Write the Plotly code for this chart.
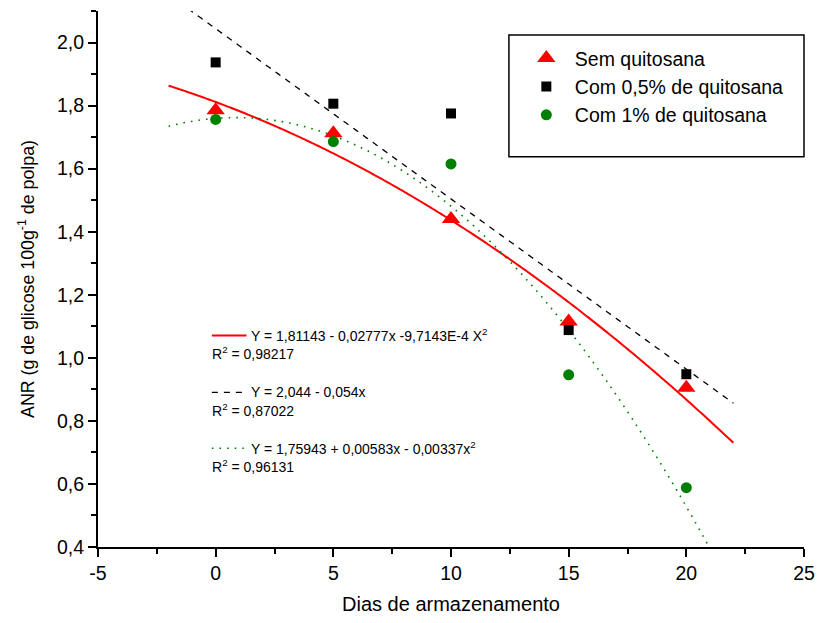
import numpy as np
import plotly.graph_objects as go

dias = [0, 5, 10, 15, 20]
sem_quitosana = [1.785, 1.712, 1.440, 1.115, 0.905]
com_05 = [1.937, 1.806, 1.775, 1.088, 0.948]
com_1 = [1.756, 1.686, 1.615, 0.946, 0.588]

x_tickvals = [-5, 0, 5, 10, 15, 20, 25]
x_ticktext = ["-5", "0", "5", "10", "15", "20", "25"]

# regression coefficients printed on the chart (c0, c1, c2)
coef_sem = [1.81143, -0.02777, -9.7143e-4]
coef_05 = [2.044, -0.054, 0.0]
coef_1 = [1.75943, 0.00583, -0.00337]
fit_range = [-2, 22]

xf = np.linspace(fit_range[0], fit_range[1], 300)
def poly(c, x):
    return c[0] + c[1] * x + c[2] * x ** 2

font = "Liberation Sans, Arial, sans-serif"
fig = go.Figure()

fig.add_trace(go.Scatter(x=xf, y=poly(coef_sem, xf), mode="lines",
                         line=dict(color="red", width=2, simplify=False), showlegend=False))
fig.add_trace(go.Scatter(x=xf, y=poly(coef_05, xf), mode="lines",
                         line=dict(color="black", width=1.3, dash="6px,6px", simplify=False), showlegend=False))
fig.add_trace(go.Scatter(x=xf, y=poly(coef_1, xf), mode="lines",
                         line=dict(color="green", width=1.6, dash="1.6px,6px", simplify=False), showlegend=False))

fig.add_trace(go.Scatter(x=dias, y=sem_quitosana, mode="markers", name="Sem quitosana",
                         marker=dict(symbol="triangle-up", color="red", size=16)))
fig.add_trace(go.Scatter(x=dias, y=com_05, mode="markers", name="Com 0,5% de quitosana",
                         marker=dict(symbol="square", color="black", size=10)))
fig.add_trace(go.Scatter(x=dias, y=com_1, mode="markers", name="Com 1% de quitosana",
                         marker=dict(symbol="circle", color="green", size=11)))

axis_common = dict(showline=True, linecolor="black", linewidth=2, ticks="outside",
                   ticklen=8, tickwidth=2, tickcolor="black", showgrid=False, zeroline=False,
                   tickfont=dict(family=font, size=19.5, color="black"))

fig.update_xaxes(range=[-5, 25], tickvals=x_tickvals, ticktext=x_ticktext,
                 minor=dict(ticks="outside", ticklen=5, tickwidth=2, tickcolor="black", dtick=2.5, tick0=-5),
                 title_text="Dias de armazenamento", title_standoff=14,
                 title_font=dict(family=font, size=20, color="black"), **axis_common)
fig.update_yaxes(range=[0.4, 2.1], tick0=0.4, dtick=0.2, tickformat=".1f",
                 minor=dict(ticks="outside", ticklen=5, tickwidth=2, tickcolor="black", dtick=0.1, tick0=0.4),
                 title_text="ANR (g de glicose 100g<sup>-1</sup> de polpa)", title_standoff=18,
                 title_font=dict(family=font, size=17.8, color="black"), **axis_common)

# legend box
fig.add_shape(type="rect", xref="paper", yref="paper",
              x0=(513 - 98) / 713, x1=(811 - 98) / 713,
              y0=(548 - 157) / 537, y1=(548 - 35) / 537,
              line=dict(color="black", width=1.5), fillcolor="white", layer="below")

fig.update_layout(
    width=826, height=623,
    margin=dict(l=98, r=15, t=11, b=75),
    paper_bgcolor="white", plot_bgcolor="white",
    separators=",.",
    font=dict(family=font, size=20, color="black"),
    legend=dict(x=(522 - 98) / 713, y=(548 - 39) / 537, xanchor="left", yanchor="top",
                bgcolor="rgba(0,0,0,0)", borderwidth=0, tracegroupgap=0,
                font=dict(family=font, size=19.5, color="black"), itemwidth=47),
)

# equation annotations with line samples
eqs = [
    ("Y = 1,81143 - 0,02777x -9,7143E-4 X<sup>2</sup>", "R<sup>2</sup> = 0,98217", 336, dict(color="red", width=2)),
    ("Y = 2,044 - 0,054x", "R<sup>2</sup> = 0,87022", 393, dict(color="black", width=1.3, dash="6px,6px")),
    ("Y = 1,75943 + 0,00583x - 0,00337x<sup>2</sup>", "R<sup>2</sup> = 0,96131", 449, dict(color="green", width=1.6, dash="1.6px,6px")),
]
for eq, r2, ypx, ln in eqs:
    fig.add_shape(type="line", xref="paper", yref="paper",
                  x0=(213 - 98) / 713, x1=(248 - 98) / 713,
                  y0=(548 - ypx) / 537, y1=(548 - ypx) / 537, line=ln)
    fig.add_annotation(xref="paper", yref="paper", x=(251 - 98) / 713, y=(548 - ypx) / 537,
                       text=eq, showarrow=False, xanchor="left", yanchor="middle",
                       font=dict(family=font, size=14, color="black"))
    fig.add_annotation(xref="paper", yref="paper", x=(211 - 98) / 713, y=(548 - ypx - 18) / 537,
                       text=r2, showarrow=False, xanchor="left", yanchor="middle",
                       font=dict(family=font, size=14, color="black"))

fig.write_html("out.html")
